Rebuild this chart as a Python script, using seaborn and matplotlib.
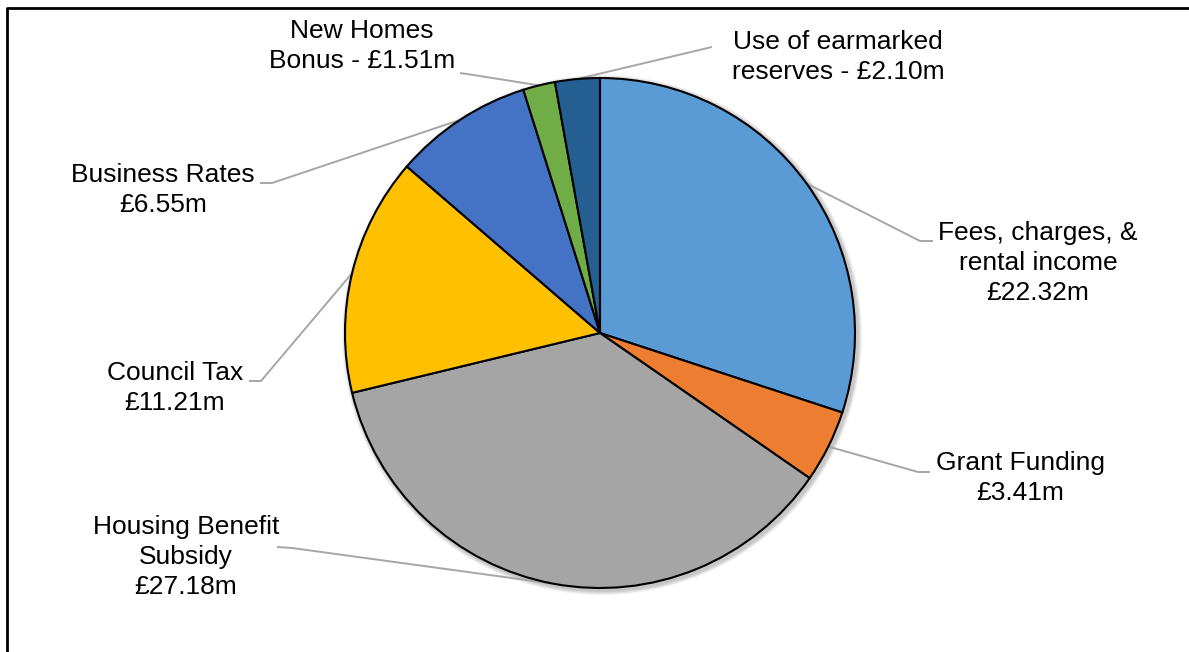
import matplotlib.pyplot as plt
import numpy as np
import seaborn as sns
from matplotlib.patches import Circle

# income sources, clockwise from 12 o'clock
CATEGORIES = [
    "Fees, charges, &\nrental income\n£22.32m",
    "Grant Funding\n£3.41m",
    "Housing Benefit\nSubsidy\n£27.18m",
    "Council Tax\n£11.21m",
    "Business Rates\n£6.55m",
    "New Homes\nBonus - £1.51m",
    "Use of earmarked\nreserves - £2.10m",
]
VALUES = [22.32, 3.41, 27.18, 11.21, 6.55, 1.51, 2.10]
COLORS = ["#5B9BD5", "#ED7D31", "#A5A5A5", "#FFC000", "#4472C4", "#70AD47", "#255E91"]

W, H = 1189, 652
CX, CY, R = 600, 333, 255

# label text centre, elbow of leader, end of the short horizontal bit (pixel coords, y down)
LABEL_POS = [
    ((1038, 263), (920, 241), (933, 241)),
    ((1020, 478), (918, 472), (930, 472)),
    ((186, 557), (292, 548), (277, 547)),
    ((175, 388), (261, 381), (249, 381)),
    ((163, 190), (272, 183), (260, 183)),
    ((362, 46), (467, 74), (460, 73)),
    ((838, 57), (712, 47), (712, 47)),
]


def fy(y):
    return H - y


def main() -> None:
    sns.set_theme(style="white")
    plt.rcParams["font.family"] = ["Liberation Sans", "DejaVu Sans"]

    fig = plt.figure(figsize=(W / 100, H / 100), dpi=100)
    ax = fig.add_axes([0, 0, 1, 1])

    # soft shadow behind the pie
    for i, a in enumerate([0.05, 0.05, 0.06, 0.07]):
        ax.add_patch(Circle((CX + 2, fy(CY) - 2), R + 5 - i, color="black", alpha=a, lw=0, zorder=0))

    wedges, _ = ax.pie(
        VALUES,
        colors=sns.color_palette(COLORS),
        startangle=90,
        counterclock=False,
        radius=R,
        center=(CX, fy(CY)),
        wedgeprops={"edgecolor": "black", "linewidth": 1.5},
    )
    for w in wedges:
        w.set_zorder(2)

    for w, label, (tpos, elbow, hend) in zip(wedges, CATEGORIES, LABEL_POS):
        mid = np.deg2rad((w.theta1 + w.theta2) / 2)
        ex = CX + R * np.cos(mid)
        ey = fy(CY) + R * np.sin(mid)
        ax.plot(
            [ex, elbow[0], hend[0]],
            [ey, fy(elbow[1]), fy(hend[1])],
            color="#A6A6A6",
            lw=1.4,
            zorder=1,
            solid_capstyle="butt",
        )
        ax.text(
            tpos[0], fy(tpos[1]), label,
            ha="center", va="center", fontsize=19, color="black",
            linespacing=1.31, multialignment="center",
        )

    # chart frame (only left and top edges fall inside the picture)
    ax.plot([7, 7, W + 10], [-10, fy(8), fy(8)], color="black", lw=2, clip_on=False)

    ax.set_xlim(0, W)
    ax.set_ylim(0, H)
    ax.set_aspect("auto")
    ax.axis("off")
    fig.savefig("out.png", dpi=100, facecolor="white")
    plt.close(fig)


if __name__ == "__main__":
    main()
